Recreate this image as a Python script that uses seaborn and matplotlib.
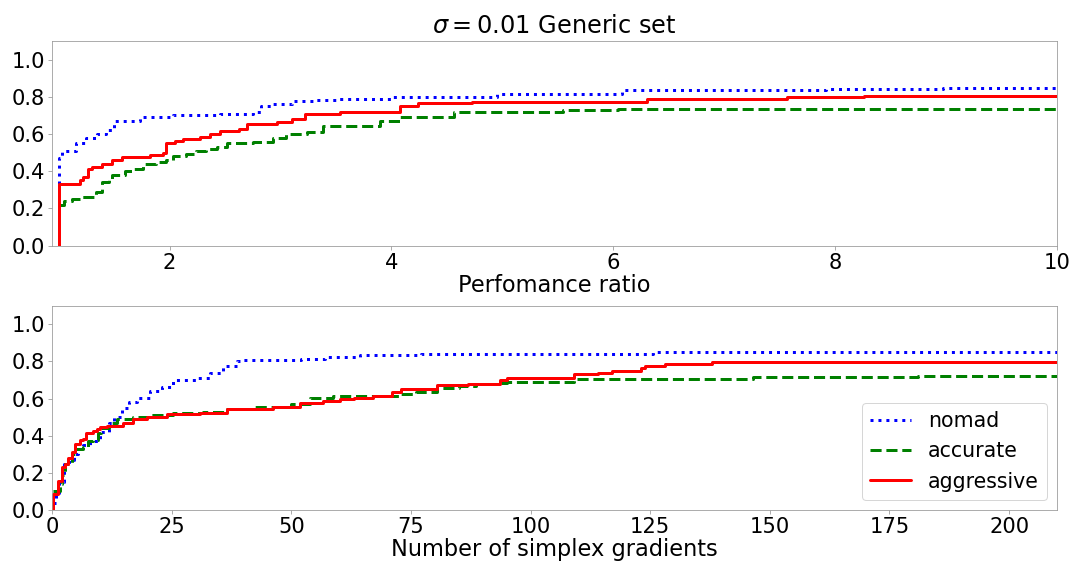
import matplotlib
matplotlib.use("Agg")
import matplotlib.pyplot as plt
import seaborn as sns

# performance profile (top)
perf_nomad_x = [1.0, 1.0, 1.03, 1.16, 1.25, 1.35, 1.43, 1.5, 1.73, 2.03, 2.45, 2.75, 2.82, 2.93, 3.1, 3.3, 3.5, 4.0, 4.95, 6.08, 7.92, 8.97, 10]
perf_nomad_y = [0.33, 0.47, 0.51, 0.55, 0.58, 0.60, 0.62, 0.67, 0.69, 0.70, 0.71, 0.72, 0.75, 0.76, 0.78, 0.785, 0.79, 0.80, 0.815, 0.835, 0.84, 0.845, 0.845]

perf_accurate_x = [1.0, 1.05, 1.12, 1.2, 1.3, 1.34, 1.39, 1.45, 1.48, 1.6, 1.67, 1.76, 1.88, 1.97, 2.03, 2.15, 2.24, 2.33, 2.43, 2.52,
                   2.75, 2.93, 3.05, 3.24, 3.38, 3.9, 4.08, 4.56, 5.55, 6.04, 7.29, 10]
perf_accurate_y = [0.22, 0.24, 0.25, 0.26, 0.26, 0.29, 0.34, 0.36, 0.38, 0.40, 0.41, 0.44, 0.45, 0.46, 0.48, 0.49, 0.51, 0.52, 0.53, 0.55,
                   0.555, 0.58, 0.60, 0.61, 0.645, 0.67, 0.69, 0.72, 0.728, 0.733, 0.737, 0.737]

perf_aggressive_x = [1.0, 1.0, 1.19, 1.22, 1.26, 1.30, 1.39, 1.48, 1.57, 1.82, 1.94, 1.97, 2.05, 2.12, 2.27, 2.36, 2.45, 2.63, 2.70, 2.97,
                     3.1, 3.22, 3.54, 4.08, 4.24, 4.73, 6.3, 7.57, 8.26, 10]
perf_aggressive_y = [0.0, 0.33, 0.35, 0.37, 0.41, 0.42, 0.44, 0.46, 0.475, 0.485, 0.50, 0.55, 0.56, 0.575, 0.585, 0.60, 0.615, 0.625, 0.655, 0.665,
                     0.68, 0.71, 0.72, 0.75, 0.765, 0.775, 0.79, 0.798, 0.803, 0.803]

# data profile (bottom)
data_nomad_x = [0.3, 0.8, 1.5, 2.5, 3.5, 4.5, 5.5, 6.5, 8, 10, 12, 13, 14.6, 16, 17.7, 20.5, 23, 25.3, 30, 33,
                35.8, 38.6, 40, 52, 57, 64.4, 77, 125.6, 210]
data_nomad_y = [0.04, 0.09, 0.15, 0.25, 0.27, 0.30, 0.33, 0.35, 0.37, 0.42, 0.47, 0.50, 0.55, 0.58, 0.605, 0.64, 0.66, 0.70, 0.71, 0.74,
                0.775, 0.80, 0.81, 0.815, 0.824, 0.833, 0.838, 0.853, 0.853]

data_accurate_x = [0.3, 1.67, 2.0, 2.8, 4.1, 5.1, 6.5, 7.5, 8.6, 9.6, 10.3, 12, 13.6, 17, 20.5, 25.3, 31.5, 36.5, 42, 46,
                   50, 54, 58.7, 72.7, 76, 80.4, 85, 88.5, 93.6, 95, 109, 146.5, 181, 210]
data_accurate_y = [0.104, 0.14, 0.19, 0.25, 0.30, 0.33, 0.34, 0.37, 0.375, 0.417, 0.444, 0.47, 0.49, 0.50, 0.51, 0.52, 0.528, 0.543, 0.552, 0.557,
                   0.57, 0.605, 0.614, 0.623, 0.636, 0.656, 0.668, 0.677, 0.686, 0.69, 0.704, 0.717, 0.722, 0.722]

data_aggressive_x = [0.3, 0.3, 1.3, 2.0, 2.7, 3.4, 4.1, 4.8, 5.85, 6.5, 7.2, 8.6, 9.3, 10.0, 11.4, 14.9, 17, 19.8, 24, 30.9,
                     36.5, 46.2, 51.8, 56.7, 60.2, 63, 67, 71, 73, 80.4, 87, 93.6, 95, 109, 114, 117, 123, 124, 128, 138, 210]
data_aggressive_y = [0.0, 0.086, 0.157, 0.23, 0.25, 0.28, 0.31, 0.355, 0.375, 0.385, 0.417, 0.425, 0.435, 0.448, 0.455, 0.47, 0.49, 0.50, 0.516, 0.525,
                     0.543, 0.552, 0.578, 0.587, 0.597, 0.605, 0.615, 0.636, 0.65, 0.673, 0.68, 0.70, 0.713, 0.73, 0.74, 0.749, 0.767, 0.776, 0.788, 0.797, 0.797]

labels = ["nomad", "accurate", "aggressive"]
colors = ["blue", "green", "red"]
styles = [":", "--", "-"]

sns.set_style("white", {"axes.edgecolor": "0.6", "text.color": "black", "axes.labelcolor": "black"})
plt.rcParams['font.family'] = ['DejaVu Sans']
plt.rcParams['xtick.bottom'] = True
plt.rcParams['ytick.left'] = True
plt.rcParams['xtick.color'] = '0.6'
plt.rcParams['ytick.color'] = '0.6'
plt.rcParams['xtick.labelcolor'] = 'black'
plt.rcParams['ytick.labelcolor'] = 'black'

fig, (ax1, ax2) = plt.subplots(2, 1, figsize=(1077 / 72, 563 / 72), dpi=72)
fig.subplots_adjust(left=0.0483, right=0.9814, top=0.927, bottom=0.094, hspace=0.294)

perf = [(perf_nomad_x, perf_nomad_y), (perf_accurate_x, perf_accurate_y), (perf_aggressive_x, perf_aggressive_y)]
data = [(data_nomad_x, data_nomad_y), (data_accurate_x, data_accurate_y), (data_aggressive_x, data_aggressive_y)]

for (x, y), lab, c, ls in zip(perf, labels, colors, styles):
    sns.lineplot(x=x, y=y, ax=ax1, color=c, linestyle=ls, linewidth=3,
                 drawstyle="steps-post", sort=False, estimator=None, label=lab, legend=False)
for (x, y), lab, c, ls in zip(data, labels, colors, styles):
    sns.lineplot(x=x, y=y, ax=ax2, color=c, linestyle=ls, linewidth=3,
                 drawstyle="steps-post", sort=False, estimator=None, label=lab)

ax1.set_xlim(0.94, 10)
ax1.set_ylim(0, 1.1)
ax1.set_xticks([2, 4, 6, 8, 10])
ax1.set_yticks([0.0, 0.2, 0.4, 0.6, 0.8, 1.0])
ax1.set_xlabel("Perfomance ratio", fontsize=22.5, labelpad=1)
ax1.set_title(r"$\sigma = 0.01$ Generic set", fontsize=24, pad=8)

ax2.set_xlim(0, 210)
ax2.set_ylim(0, 1.1)
ax2.set_yticks([0.0, 0.2, 0.4, 0.6, 0.8, 1.0])
ax2.set_xlabel("Number of simplex gradients", fontsize=22.5, labelpad=1)

for ax in (ax1, ax2):
    ax.tick_params(labelsize=21, length=4, pad=3)
    ax.set_ylabel("")

ax2.legend(loc="lower right", fontsize=20.5, labelcolor="black")

fig.savefig("out.png", dpi=72)
